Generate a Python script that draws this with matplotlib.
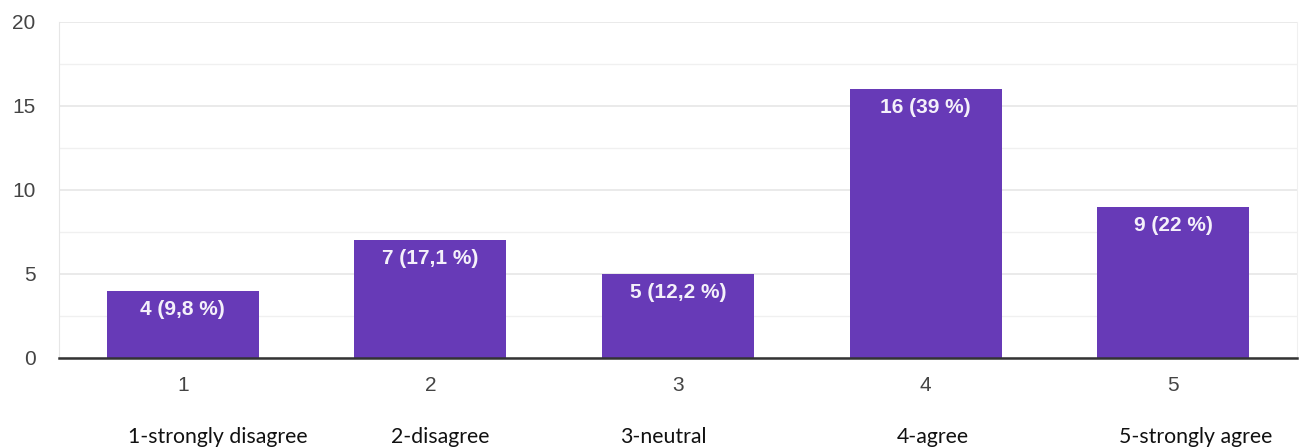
import matplotlib
matplotlib.use("Agg")
import matplotlib.pyplot as plt
import numpy as np

# answers on a 1-5 scale
ticks = ["1", "2", "3", "4", "5"]
counts = [4, 7, 5, 16, 9]
labels = ["4 (9,8 %)", "7 (17,1 %)", "5 (12,2 %)", "16 (39 %)", "9 (22 %)"]
names = ["1-strongly disagree", "2-disagree", "3-neutral", "4-agree", "5-strongly agree"]
name_x = [0.14, 1.04, 1.94, 3.03, 4.09]  # where the legend-ish names sit

purple = "#673ab7"

fig = plt.figure(figsize=(13, 4.48), dpi=100)
ax = fig.add_axes([0.0454, 0.2009, 0.9523, 0.75])

x = np.arange(len(counts))
ax.bar(x, counts, width=0.614, color=purple, zorder=3)

for xi, c, lab in zip(x, counts, labels):
    ax.annotate(lab, (xi, c), xytext=(0, -6.5), textcoords="offset points",
                ha="center", va="top", color="#f4f0fa", fontsize=15,
                fontweight="bold", family="Liberation Sans", zorder=4)

ax.set_xlim(-0.5, 4.5)
ax.set_ylim(0, 20)
ax.set_yticks([0, 5, 10, 15, 20])
ax.set_yticks([2.5, 7.5, 12.5, 17.5], minor=True)
ax.grid(axis="y", which="major", color="#e6e6e6", lw=1.2, zorder=0)
ax.grid(axis="y", which="minor", color="#f0f0f0", lw=1.0, zorder=0)

ax.set_xticks(x)
ax.set_xticklabels(ticks)
ax.tick_params(axis="both", which="both", length=0, labelsize=15, colors="#444444")
ax.tick_params(axis="x", pad=13)
ax.tick_params(axis="y", pad=17)
for t in ax.get_xticklabels() + ax.get_yticklabels():
    t.set_family("Liberation Sans")

for s in ["top"]:
    ax.spines[s].set_visible(False)
ax.spines["left"].set_color("#e6e6e6")
ax.spines["right"].set_color("#f0f0f0")
ax.spines["bottom"].set_color("#333333")
ax.spines["bottom"].set_linewidth(1.8)
ax.spines["bottom"].set_zorder(5)

for nx, nm in zip(name_x, names):
    ax.text(nx, -0.235, nm, transform=ax.get_xaxis_transform(), ha="center",
            va="center", fontsize=15.3, color="#111111", family="Lato")

fig.savefig("out.png", dpi=100, facecolor="white")
